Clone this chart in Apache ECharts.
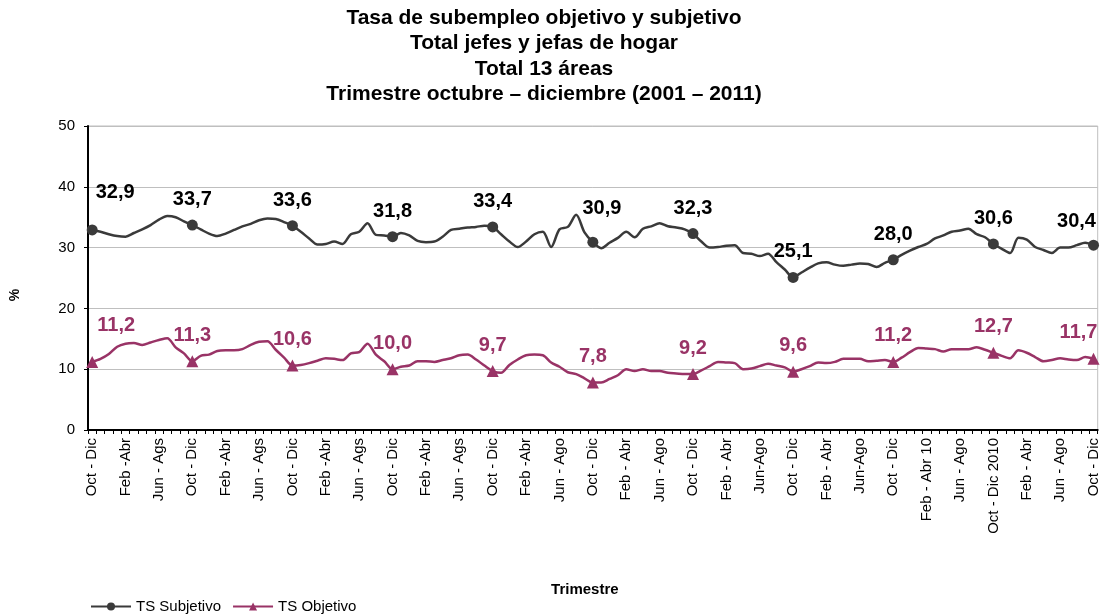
<!DOCTYPE html>
<html>
<head>
<meta charset="utf-8">
<script src="https://cdn.jsdelivr.net/npm/echarts@6/dist/echarts.min.js"></script>
<style>
  html, body { margin: 0; padding: 0; background: #fff; }
  #chart { width: 1101px; height: 614px; }
</style>
</head>
<body>
<div id="chart"></div>
<script>
// rolling quarters, Oct-Dic 2001 .. Oct-Dic 2011 (121 points)
var tickLabels = [
  'Oct - Dic', 'Feb -Abr', 'Jun - Ags', 'Oct - Dic', 'Feb -Abr', 'Jun - Ags',
  'Oct - Dic', 'Feb -Abr', 'Jun - Ags', 'Oct - Dic', 'Feb -Abr', 'Jun - Ags',
  'Oct - Dic', 'Feb -Abr', 'Jun - Ago', 'Oct - Dic', 'Feb - Abr', 'Jun - Ago',
  'Oct - Dic', 'Feb - Abr', 'Jun-Ago', 'Oct - Dic', 'Feb - Abr', 'Jun-Ago',
  'Oct - Dic', 'Feb - Abr 10', 'Jun - Ago', 'Oct - Dic 2010', 'Feb - Abr', 'Jun - Ago',
  'Oct - Dic'
]

var tsSubjetivo = [
  32.9, 32.6, 32.2, 31.9, 31.8, 32.4, 33.0, 33.7, 34.6, 35.2, 35.0, 34.3,
  33.7, 33.0, 32.3, 31.9, 32.3, 32.9, 33.5, 33.9, 34.5, 34.8, 34.7, 34.2,
  33.6, 32.6, 31.5, 30.5, 30.6, 31.0, 30.6, 32.2, 32.6, 34.0, 32.1, 32.0,
  31.8, 32.4, 32.0, 31.1, 30.9, 31.0, 31.8, 32.9, 33.1, 33.3, 33.4, 33.6,
  33.4, 32.2, 31.0, 30.1, 31.0, 32.2, 32.6, 30.1, 33.0, 33.4, 35.4, 32.5,
  30.9, 29.9, 30.8, 31.6, 32.6, 31.7, 33.1, 33.5, 34.0, 33.5, 33.3, 33.0,
  32.3, 31.0, 30.0, 30.1, 30.3, 30.4, 29.1, 29.0, 28.6, 29.0, 27.6, 26.4,
  25.1, 25.9, 26.7, 27.4, 27.6, 27.2, 27.0, 27.2, 27.4, 27.3, 26.8, 27.5,
  28.0, 28.8, 29.5, 30.1, 30.6, 31.5, 32.0, 32.6, 32.8, 33.1, 32.2, 31.7,
  30.6, 29.8, 29.1, 31.6, 31.3, 30.1, 29.6, 29.1, 30.0, 30.0, 30.4, 30.8,
  30.4
]

var tsObjetivo = [
  11.2, 11.7, 12.5, 13.7, 14.2, 14.3, 14.0, 14.4, 14.8, 15.1, 13.6, 12.6,
  11.3, 12.2, 12.4, 13.0, 13.1, 13.1, 13.3, 14.0, 14.5, 14.6, 13.2, 11.9,
  10.6, 10.7, 11.0, 11.4, 11.8, 11.7, 11.5, 12.6, 12.8, 14.2, 12.4, 11.3,
  10.0, 10.4, 10.6, 11.3, 11.3, 11.2, 11.5, 11.8, 12.3, 12.4, 11.6, 10.6,
  9.7, 9.4, 10.7, 11.6, 12.3, 12.4, 12.3, 11.1, 10.4, 9.5, 9.2, 8.5,
  7.8, 7.8, 8.4, 9.0, 10.0, 9.7, 10.0, 9.7, 9.7, 9.4, 9.3, 9.2,
  9.2, 9.8, 10.5, 11.2, 11.1, 11.0, 10.0, 10.1, 10.5, 10.9, 10.6, 10.3,
  9.6, 10.0, 10.5, 11.1, 11.0, 11.2, 11.7, 11.7, 11.7, 11.3, 11.4, 11.5,
  11.2, 11.9, 12.8, 13.5, 13.4, 13.3, 12.9, 13.3, 13.3, 13.3, 13.6, 13.2,
  12.7, 12.2, 11.8, 13.1, 12.7, 12.0, 11.3, 11.5, 11.8, 11.6, 11.5, 12.0,
  11.7
]

var meses = ['Ene', 'Feb', 'Mar', 'Abr', 'May', 'Jun', 'Jul', 'Ago', 'Sep', 'Oct', 'Nov', 'Dic']
var categorias = tsSubjetivo.map(function (v, i) {
  return meses[(9 + i) % 12] + ' - ' + meses[(11 + i) % 12]
})

var titulo = 'Tasa de subempleo objetivo y subjetivo\nTotal jefes y jefas de hogar\nTotal 13 áreas\nTrimestre octubre – diciembre (2001 – 2011)'

// manual nudges of some data labels (pixels), like the original
var subjOffsets = { 0: [23, -12], 60: [9, -8], 120: [-17, 2] }
var objOffsets = { 0: [24, -10], 120: [-15, 0] }

function fmt (v) {
  return v.toFixed(1).replace('.', ',')
}

function buildSeries (name, values, color, textColor, symbol, size, offsets) {
  return {
    name: name,
    type: 'line',
    smooth: 0.3,
    symbol: symbol,
    symbolSize: function (val, p) {
      return p.dataIndex % 12 === 0 ? size : 0
    },
    showAllSymbol: true,
    lineStyle: { color: color, width: 2.5 },
    itemStyle: { color: color },
    data: values.map(function (v, i) {
      var item = { value: v }
      if (i % 12 === 0) {
        item.label = {
          show: true,
          position: 'top',
          distance: 10,
          offset: offsets[i] || [0, 0],
          formatter: fmt(v),
          color: textColor,
          fontSize: 20,
          fontWeight: 'bold',
          fontFamily: 'Liberation Sans'
        }
      }
      return item
    })
  }
}

var chart = echarts.init(document.getElementById('chart'))
chart.setOption({
  animation: false,
  graphic: [{
    type: 'text',
    x: 544,
    y: 5,
    style: {
      text: titulo,
      textAlign: 'center',
      textVerticalAlign: 'top',
      font: 'bold 21px "Liberation Sans"',
      lineHeight: 25.5,
      fill: '#000'
    }
  }],
  legend: {
    left: 85,
    top: 594,
    itemGap: 11,
    itemWidth: 40,
    itemHeight: 10,
    textStyle: { fontFamily: 'Liberation Sans', fontSize: 15, color: '#000' },
    data: ['TS Subjetivo', 'TS Objetivo']
  },
  grid: {
    left: 84,
    right: 1,
    top: 126,
    bottom: 184,
    show: true,
    borderColor: '#BFBFBF',
    borderWidth: 1
  },
  xAxis: {
    type: 'category',
    data: categorias,
    boundaryGap: true,
    name: 'Trimestre',
    nameLocation: 'middle',
    nameGap: 152,
    nameTextStyle: {
      fontFamily: 'Liberation Sans', fontSize: 15, fontWeight: 'bold', color: '#000',
      padding: [0, 16, 0, 0]
    },
    axisLine: { lineStyle: { color: '#000', width: 2 } },
    axisTick: { show: true, interval: 0, length: 4, lineStyle: { color: '#000' } },
    axisLabel: {
      interval: 3,
      rotate: 90,
      margin: 8,
      fontFamily: 'Liberation Sans',
      fontSize: 15,
      color: '#000',
      formatter: function (v, i) {
        return tickLabels[i / 4] || ''
      }
    },
    splitLine: { show: false }
  },
  yAxis: {
    type: 'value',
    min: 0,
    max: 50,
    interval: 10,
    name: '%',
    nameLocation: 'middle',
    nameGap: 66,
    nameRotate: 90,
    nameTextStyle: {
      fontFamily: 'Liberation Sans', fontSize: 14, fontWeight: 'bold', color: '#000',
      padding: [0, 34, 0, 0]
    },
    axisLine: { show: true, lineStyle: { color: '#000', width: 2 } },
    axisTick: { show: true, length: 4, lineStyle: { color: '#000' } },
    axisLabel: { fontFamily: 'Liberation Sans', fontSize: 15, color: '#000', margin: 13 },
    splitLine: { lineStyle: { color: '#BFBFBF', width: 1 } }
  },
  series: [
    buildSeries('TS Subjetivo', tsSubjetivo, '#3a3a3a', '#000', 'circle', 11, subjOffsets),
    buildSeries('TS Objetivo', tsObjetivo, '#993366', '#993366', 'triangle', 12, objOffsets)
  ]
})
</script>
</body>
</html>
